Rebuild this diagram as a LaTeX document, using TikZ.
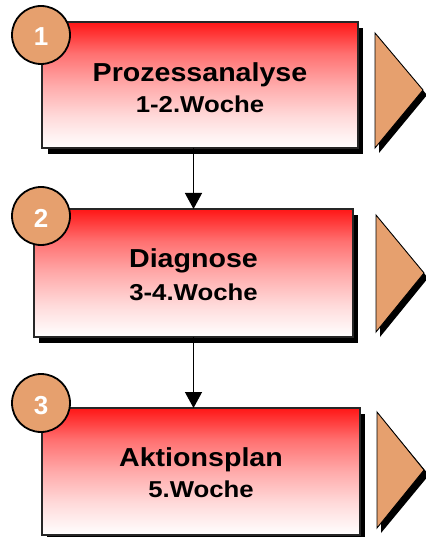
\documentclass[tikz,border=0pt]{standalone}
\usepackage{graphicx}
\usepackage{fontspec}
\setmainfont{Liberation Sans}
\usetikzlibrary{shadows,arrows.meta,calc}
\definecolor{salmon}{RGB}{230,160,110}
\pgfdeclareverticalshading{redfade}{100bp}{%
  color(0bp)=(white);
  color(25bp)=(white);
  color(37.5bp)=(rgb,255:red,255;green,218;blue,218);
  color(50bp)=(rgb,255:red,255;green,170;blue,170);
  color(62.5bp)=(rgb,255:red,255;green,112;blue,112);
  color(75bp)=(rgb,255:red,255;green,22;blue,22);
  color(100bp)=(rgb,255:red,255;green,22;blue,22)}
\newcommand{\ttl}[1]{\scalebox{1.1}[1]{\fontsize{26}{30}\selectfont\bfseries #1}}
\newcommand{\sub}[1]{\scalebox{1.12}[1]{\fontsize{23}{26}\selectfont\bfseries #1}}
\newcommand{\num}[1]{{\fontsize{26}{30}\selectfont\bfseries #1}}
\begin{document}
\begin{tikzpicture}[x=1pt,y=1pt,
  stepbox/.style={draw=black!85, line width=1.2pt, shading=redfade,
    inner sep=0pt, outer sep=0pt},
  shadowbox/.style={fill=black, draw=none},
  badge/.style={circle, draw=black, line width=1.8pt, fill=salmon, minimum size=58pt, inner sep=0pt},
  badgetext/.style={text=white, anchor=base, inner sep=0pt},
  titletext/.style={anchor=base, inner sep=0pt},
  flow/.style={line width=1.3pt, -{Triangle[length=16pt,width=17pt]}},
  tri/.style={fill=salmon, draw=black, line width=0.9pt, line join=miter},
  trishadow/.style={fill=black, draw=none}
]
\useasboundingbox (0,0) rectangle (425,-537);

% shadows of boxes
\fill[shadowbox] (48,-28) rectangle (363,-154);
\fill[shadowbox] (39,-215) rectangle (358,-343);
\fill[shadowbox] (47,-414) rectangle (365,-541);

% boxes
\node[stepbox, minimum width=316pt, minimum height=126pt] (b1) at (200,-85) {};
\node[stepbox, minimum width=319pt, minimum height=128pt] (b2) at (193.5,-273) {};
\node[stepbox, minimum width=318pt, minimum height=127pt] (b3) at (201,-471.5) {};

% texts
\node[titletext] (t1) at ($(b1.center)+(0,3)$) {\ttl{Prozessanalyse}};
\node[titletext] (s1) at ($(b1.center)+(0,-28)$) {\sub{1-2.Woche}};
\node[titletext] (t2) at ($(b2.center)+(0,6)$) {\ttl{Diagnose}};
\node[titletext] (s2) at ($(b2.center)+(0,-27)$) {\sub{3-4.Woche}};
\node[titletext] (t3) at ($(b3.center)+(0,5.5)$) {\ttl{Aktionsplan}};
\node[titletext] (s3) at ($(b3.center)+(0,-25.5)$) {\sub{5.Woche}};

% badges
\node[badge] (c1) at (41,-35) {};
\node[badge] (c2) at (41,-216) {};
\node[badge] (c3) at (41,-403) {};
\node[badgetext] at ($(c1.center)+(0,-11)$) {\num{1}};
\node[badgetext] at ($(c2.center)+(0,-11)$) {\num{2}};
\node[badgetext] at ($(c3.center)+(0,-11)$) {\num{3}};

% connectors
\draw[flow] (b1.south -| b2.north) -- (b2.north);
\draw[flow] (b2.south) -- (b2.south |- b3.north);

% triangles
\fill[trishadow] (379,-38) -- (379,-153) -- (427,-95) -- cycle;
\draw[tri] (375,-33) -- (375,-148) -- (423,-90) -- cycle;
\fill[trishadow] (380,-220) -- (380,-337) -- (428,-278) -- cycle;
\draw[tri] (376,-215) -- (376,-332) -- (424,-273) -- cycle;
\fill[trishadow] (381,-417) -- (381,-533) -- (429,-475) -- cycle;
\draw[tri] (377,-412) -- (377,-528) -- (424,-470) -- cycle;
\end{tikzpicture}
\end{document}
